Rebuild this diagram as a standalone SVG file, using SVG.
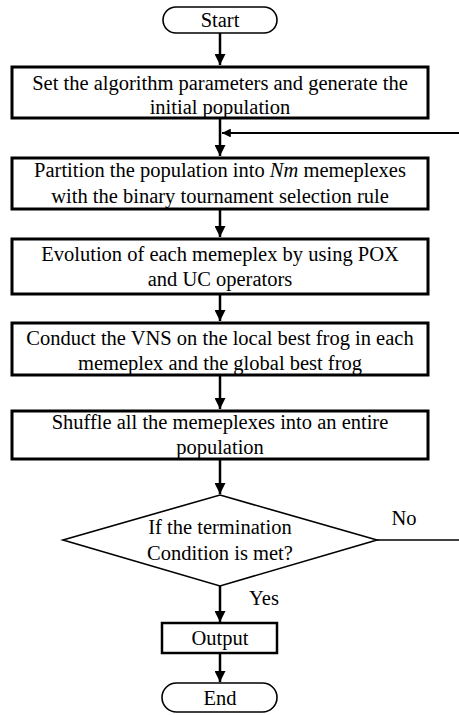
<svg xmlns="http://www.w3.org/2000/svg" width="459" height="715" viewBox="0 0 459 715" font-family="Liberation Serif, Times New Roman, serif">
<style>
text{font-size:20.5px;fill:#000;text-anchor:middle}
.box{fill:#fff;stroke:#000;stroke-width:3}
.term{fill:#fff;stroke:#000;stroke-width:1.6}
.dia{fill:#fff;stroke:#000;stroke-width:1.6}
.ln{fill:none;stroke:#000;stroke-width:2.5}
.thin{fill:none;stroke:#000;stroke-width:1.6}
</style>
<defs>
<marker id="ah" viewBox="0 0 10 10" refX="10" refY="5" markerWidth="4.4" markerHeight="4.4" orient="auto" markerUnits="strokeWidth">
<path d="M0,0 L10,5 L0,10 Z" fill="#000"/>
</marker>
</defs>
<g id="connectors">
<line class="ln" x1="220" y1="33" x2="220" y2="65" marker-end="url(#ah)"/>
<line class="ln" x1="220" y1="118" x2="220" y2="156" marker-end="url(#ah)"/>
<line class="ln" x1="220" y1="209" x2="220" y2="237" marker-end="url(#ah)"/>
<line class="ln" x1="220" y1="294" x2="220" y2="321" marker-end="url(#ah)"/>
<line class="ln" x1="220" y1="375" x2="220" y2="409" marker-end="url(#ah)"/>
<line class="ln" x1="220" y1="459" x2="220" y2="494" marker-end="url(#ah)"/>
<line class="ln" x1="220" y1="586" x2="220" y2="622" marker-end="url(#ah)"/>
<line class="ln" x1="220" y1="653" x2="220" y2="682" marker-end="url(#ah)"/>
<line class="thin" x1="377" y1="540" x2="459" y2="540"/>
<line class="thin" x1="459" y1="133" x2="222" y2="133" marker-end="url(#ah)" style="stroke-width:2"/>
<text x="404" y="525">No</text>
<text x="264" y="605">Yes</text>
</g>
<g id="start">
<rect class="term" x="163" y="7" width="114" height="26" rx="13"/>
<text x="220" y="27">Start</text>
</g>
<g id="init">
<rect class="box" x="12" y="67" width="416" height="51"/>
<text x="220" y="90">Set the algorithm parameters and generate the</text>
<text x="220" y="114">initial population</text>
</g>
<g id="partition">
<rect class="box" x="12" y="158" width="416" height="51"/>
<text x="220" y="177">Partition the population into  <tspan font-style="italic">Nm</tspan> memeplexes</text>
<text x="220" y="203">with the binary tournament selection rule</text>
</g>
<g id="evolution">
<rect class="box" x="12" y="239" width="416" height="55"/>
<text x="220" y="261">Evolution of each memeplex by using POX</text>
<text x="220" y="286">and UC operators</text>
</g>
<g id="vns">
<rect class="box" x="12" y="323" width="416" height="52"/>
<text x="220" y="345">Conduct the VNS on the local best frog in each</text>
<text x="220" y="370">memeplex and the global best frog</text>
</g>
<g id="shuffle">
<rect class="box" x="12" y="411" width="416" height="48"/>
<text x="220" y="429">Shuffle all the memeplexes into an entire</text>
<text x="220" y="454">population</text>
</g>
<g id="decision">
<polygon class="dia" points="220,495 377,540 220,586 63,540"/>
<text x="220" y="534">If the termination</text>
<text x="220" y="560">Condition is met?</text>
</g>
<g id="output">
<rect class="box" x="162" y="623" width="115" height="30" style="stroke-width:2.5"/>
<text x="220" y="645">Output</text>
</g>
<g id="end">
<rect class="term" x="162" y="683" width="115" height="29" rx="14.5"/>
<text x="220" y="705">End</text>
</g>
</svg>
